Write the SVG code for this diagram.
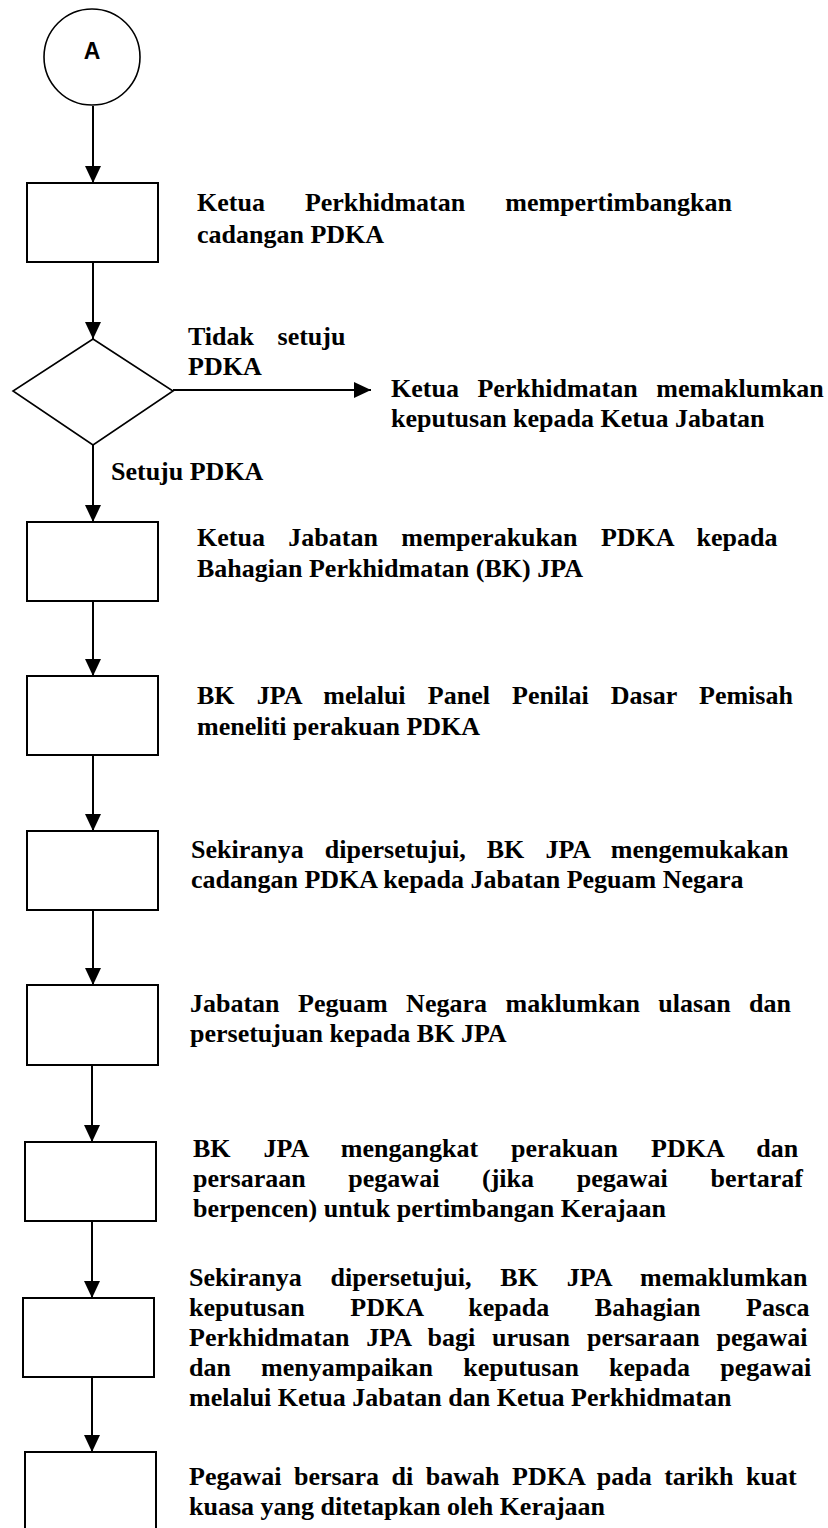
<svg xmlns="http://www.w3.org/2000/svg" width="828" height="1528" viewBox="0 0 828 1528">
<style>
.shape{fill:#fff;stroke:#000;stroke-width:2}
.thin{fill:#fff;stroke:#000;stroke-width:1.6}
.conn{fill:none;stroke:#000;stroke-width:2}
.t{font-family:"Liberation Serif","Times New Roman",serif;font-weight:bold;font-size:26px;fill:#000}
.a{font-family:"Liberation Sans",Arial,sans-serif;font-weight:bold;font-size:23px;fill:#000}
</style>
<defs>
<marker id="arr" markerUnits="userSpaceOnUse" markerWidth="18" markerHeight="18" refX="17" refY="8" orient="auto">
<path d="M0,0 L17,8 L0,16 Z" fill="#000"/>
</marker>
</defs>
<rect width="828" height="1528" fill="#fff"/>

<g id="connectors">
<line class="conn" x1="93" y1="106" x2="93" y2="183" marker-end="url(#arr)"/>
<line class="conn" x1="93" y1="262" x2="93" y2="339" marker-end="url(#arr)"/>
<line class="conn" x1="173" y1="390" x2="371" y2="390" marker-end="url(#arr)"/>
<line class="conn" x1="93" y1="445" x2="93" y2="522" marker-end="url(#arr)"/>
<line class="conn" x1="93" y1="601" x2="93" y2="676" marker-end="url(#arr)"/>
<line class="conn" x1="93" y1="755" x2="93" y2="831" marker-end="url(#arr)"/>
<line class="conn" x1="93" y1="910" x2="93" y2="985" marker-end="url(#arr)"/>
<line class="conn" x1="92" y1="1065" x2="92" y2="1142" marker-end="url(#arr)"/>
<line class="conn" x1="92" y1="1221" x2="92" y2="1298" marker-end="url(#arr)"/>
<line class="conn" x1="92" y1="1377" x2="92" y2="1452" marker-end="url(#arr)"/>
</g>

<g id="nodeA">
<circle class="thin" cx="92" cy="57" r="48"/>
<text class="a" x="92" y="59" text-anchor="middle">A</text>
</g>

<g id="step1">
<rect class="shape" x="27" y="183" width="131" height="79"/>
<text class="t" x="197" y="211" style="word-spacing:33.5px">Ketua Perkhidmatan mempertimbangkan</text>
<text class="t" x="197" y="243">cadangan PDKA</text>
</g>

<g id="decision">
<polygon class="thin" points="93,339 173,391 93,445 13,391"/>
<text class="t" x="188" y="345" style="word-spacing:17px">Tidak setuju</text>
<text class="t" x="188" y="375">PDKA</text>
<text class="t" x="111" y="480">Setuju PDKA</text>
</g>

<g id="reject">
<text class="t" x="391" y="397" style="word-spacing:12px">Ketua Perkhidmatan memaklumkan</text>
<text class="t" x="391" y="427">keputusan kepada Ketua Jabatan</text>
</g>

<g id="step2">
<rect class="shape" x="27" y="522" width="131" height="79"/>
<text class="t" x="197" y="546" style="word-spacing:16.9px">Ketua Jabatan memperakukan PDKA kepada</text>
<text class="t" x="197" y="577">Bahagian Perkhidmatan (BK) JPA</text>
</g>

<g id="step3">
<rect class="shape" x="27" y="676" width="131" height="79"/>
<text class="t" x="197" y="704" style="word-spacing:15.7px">BK JPA melalui Panel Penilai Dasar Pemisah</text>
<text class="t" x="197" y="735">meneliti perakuan PDKA</text>
</g>

<g id="step4">
<rect class="shape" x="27" y="831" width="131" height="79"/>
<text class="t" x="191" y="858" style="word-spacing:14.6px">Sekiranya dipersetujui, BK JPA mengemukakan</text>
<text class="t" x="191" y="888">cadangan PDKA kepada Jabatan Peguam Negara</text>
</g>

<g id="step5">
<rect class="shape" x="27" y="985" width="131" height="80"/>
<text class="t" x="190" y="1012" style="word-spacing:12px">Jabatan Peguam Negara maklumkan ulasan dan</text>
<text class="t" x="190" y="1042">persetujuan kepada BK JPA</text>
</g>

<g id="step6">
<rect class="shape" x="25" y="1142" width="131" height="79"/>
<text class="t" x="193" y="1157" style="word-spacing:26.5px">BK JPA mengangkat perakuan PDKA dan</text>
<text class="t" x="193" y="1187" style="word-spacing:36.2px">persaraan pegawai (jika pegawai bertaraf</text>
<text class="t" x="193" y="1217">berpencen) untuk pertimbangan Kerajaan</text>
</g>

<g id="step7">
<rect class="shape" x="23" y="1298" width="131" height="79"/>
<text class="t" x="189" y="1286" style="word-spacing:22.4px">Sekiranya dipersetujui, BK JPA memaklumkan</text>
<text class="t" x="189" y="1316" style="word-spacing:39.2px">keputusan PDKA kepada Bahagian Pasca</text>
<text class="t" x="189" y="1346" style="word-spacing:10.4px">Perkhidmatan JPA bagi urusan persaraan pegawai</text>
<text class="t" x="189" y="1376" style="word-spacing:23.7px">dan menyampaikan keputusan kepada pegawai</text>
<text class="t" x="189" y="1406">melalui Ketua Jabatan dan Ketua Perkhidmatan</text>
</g>

<g id="step8">
<rect class="shape" x="25" y="1452" width="131" height="80"/>
<text class="t" x="189" y="1485" style="word-spacing:6px">Pegawai bersara di bawah PDKA pada tarikh kuat</text>
<text class="t" x="189" y="1515">kuasa yang ditetapkan oleh Kerajaan</text>
</g>
</svg>
